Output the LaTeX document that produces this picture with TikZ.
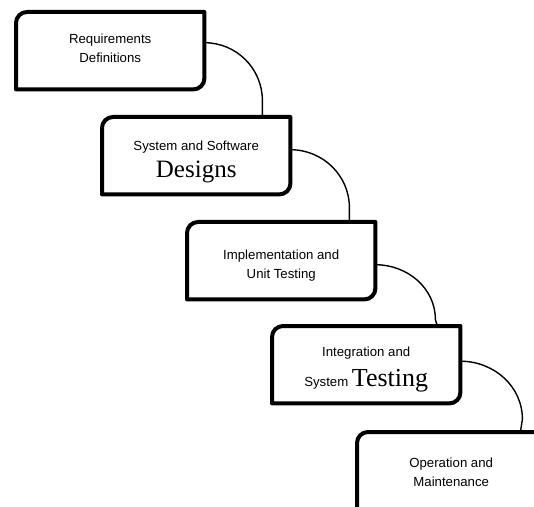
\documentclass[tikz,border=0pt]{standalone}
\usepackage{fontspec}
\setmainfont{Liberation Sans}
\newfontfamily\bigserif{Liberation Serif}
\tikzset{
  stage/.style={rectangle,minimum width=188pt,minimum height=77pt,inner sep=0pt},
  caption/.style={align=center,inner sep=0pt,font=\fontsize{13.2}{19}\selectfont},
  frame/.style={line width=4pt,line join=round},
  flow/.style={line width=1.4pt}
}
\newcommand{\stageframe}[1]{%
  \draw[frame] (#1.south west)--([yshift=-11pt]#1.north west)
    arc[start angle=180,end angle=90,radius=11pt]--(#1.north east)
    --([yshift=11pt]#1.south east) arc[start angle=0,end angle=-90,radius=11pt]--cycle;}
\begin{document}
\begin{tikzpicture}[x=1pt,y=1pt]
\useasboundingbox (0,0) rectangle (534,506);
\clip (0,0) rectangle (534,506);
\node[stage,anchor=north west] (req) at (16,494) {};
\node[stage,anchor=north west] (des) at (102,389) {};
\node[stage,anchor=north west] (imp) at (187,284) {};
\node[stage,anchor=north west] (int) at (272,180) {};
\node[stage,anchor=north west] (ops) at (357,74) {};
\foreach \s in {req,des,imp,int,ops} {\stageframe{\s}}
% texts
\node[caption] (reqtext) at ([yshift=2pt]req.center) {Requirements\\Definitions};
\node[caption] (destext) at ([yshift=-6pt]des.center)
  {System and Software\\[7pt]{\bigserif\fontsize{25}{25}\selectfont Designs}};
\node[caption] (imptext) at ([yshift=-4.5pt]imp.center) {Implementation and\\Unit Testing};
\node[caption] (inttext) at ([yshift=-5pt]int.center)
  {Integration and\\[9pt]System {\bigserif\fontsize{26}{26}\selectfont Testing}};
\node[caption] (opstext) at ([yshift=-2pt]ops.center) {Operation and\\Maintenance};
% curved links
\draw[flow]([yshift=8pt]req.east) to[out=0,in=90] ++(58,-58) -- ([xshift=-28pt]des.north east);
\draw[flow]([yshift=6pt]des.east) to[out=0,in=90] ++(59,-58) -- ([xshift=-26pt]imp.north east);
\draw[flow]([yshift=-4pt]imp.east) to[out=0,in=90] ++(60,-55) -- ([xshift=-23pt]int.north east);
\draw[flow]([yshift=3.5pt]int.east) to[out=0,in=90] ++(62,-58) -- ([xshift=-25pt]ops.north east);
\end{tikzpicture}
\end{document}
